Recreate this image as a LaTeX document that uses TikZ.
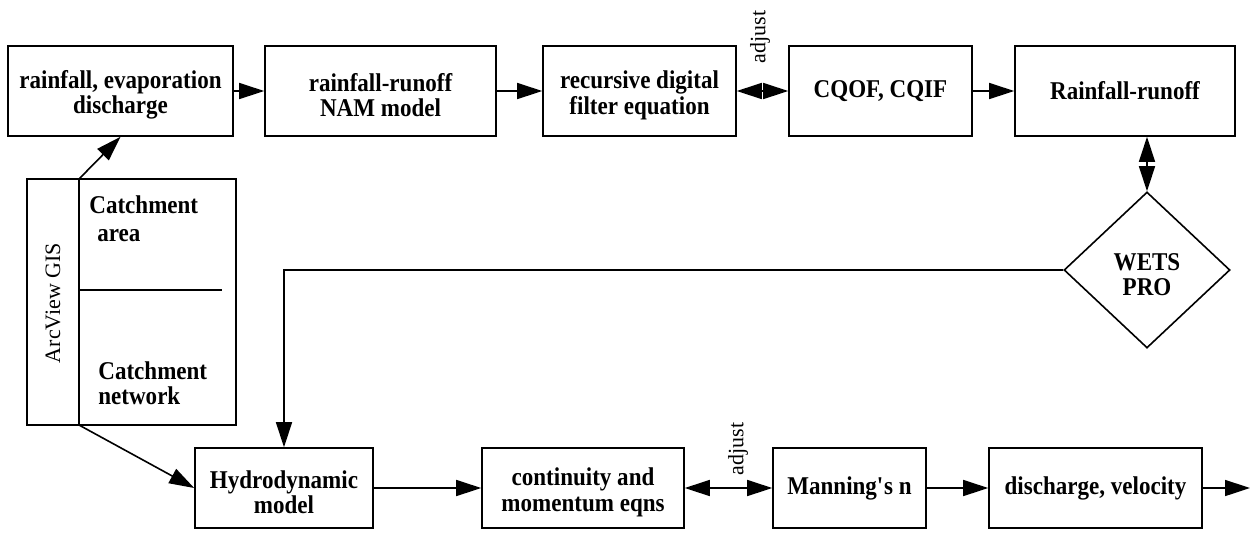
\documentclass[tikz,border=0pt]{standalone}
\usepackage{fontspec}
\setmainfont{Liberation Serif}
\newfontfamily\bxfont[FakeStretch=0.9]{Liberation Serif}
\newcommand\tpstrut{\rule{0pt}{13pt}}
\usetikzlibrary{shapes.geometric,arrows.meta}
\begin{document}
\begin{tikzpicture}[x=0.5pt,y=-0.5pt,
  box/.style={draw, line width=0.8pt, inner sep=0pt, align=center,
    font=\bxfont\bfseries\fontsize{12.8}{12.8}\selectfont},
  topbox/.style={box, minimum height=45pt},
  botbox/.style={box, minimum height=40pt},
  lbl/.style={inner sep=0pt, align=left, font=\bxfont\bfseries\fontsize{12.8}{12.6}\selectfont},
  plain/.style={inner sep=0pt, font=\fontsize{11}{12}\selectfont},
  tip/.tip={Triangle[length=12.5pt,width=8pt]},
  conn/.style={line width=0.8pt, -tip},
  dconn/.style={line width=0.8pt, tip-tip},
  line/.style={line width=0.8pt}]
\useasboundingbox[fill=white] (0,0) rectangle (1260,532);

% top row
\node[topbox, minimum width=112.5pt] (b1) at (120.5,91) {\tpstrut rainfall, evaporation\\discharge};
\node[topbox, minimum width=115.5pt] (b2) at (380.5,91) {\tpstrut rainfall-runoff\\NAM model};
\node[topbox, minimum width=96.5pt]  (b3) at (639.5,91) {\tpstrut recursive digital\\filter equation};
\node[topbox, minimum width=91.5pt]  (b4) at (880.5,91) {CQOF, CQIF};
\node[topbox, minimum width=110pt]   (b5) at (1125,91) {Rainfall-runoff};

% WETS PRO
\node[box, diamond, minimum width=83pt, minimum height=78pt] (wets) at (1147,270) {\tpstrut WETS\\PRO};

% bottom row
\node[botbox, minimum width=89pt]    (hy) at (284,488) {\tpstrut Hydrodynamic\\model};
\node[botbox, minimum width=101pt]   (co) at (583,488) {\tpstrut continuity and\\momentum eqns};
\node[botbox, minimum width=76.5pt]  (ma) at (849.5,488) {Manning\textquotesingle s n};
\node[botbox, minimum width=106.5pt] (dv) at (1095.5,488) {discharge, velocity};
\coordinate (out) at (1250,488);

% ArcView GIS block
\node[draw, line width=0.8pt, minimum width=104.5pt, minimum height=123pt, inner sep=0pt] (gis) at (131.5,302) {};
\coordinate (gtop) at (79,179);
\coordinate (gbot) at (79,425);
\coordinate (dl) at (79,290);
\coordinate (dr) at (222,290);
\draw[line] (gtop) -- (gbot);
\draw[line] (dl) -- (dr);
\node[plain, rotate=90] (arcv) at (53,303) {ArcView GIS};
\node[lbl, anchor=north west] (ca) at (89,195) {Catchment\\[1.5pt]\hspace{4pt}area};
\node[lbl, anchor=north west] (cn) at (98,361) {Catchment\\network};

% adjust labels
\node[plain, rotate=90] (adj1) at (760,37) {adjust};
\node[plain, rotate=90] (adj2) at (738,449) {adjust};

% connectors
\draw[conn] (b1) -- (b2);
\draw[conn] (b2) -- (b3);
\draw[dconn] (b3) -- (b4);
\draw[conn] (b4) -- (b5);
\draw[dconn] (wets.north) -- (wets.north |- b5.south);
\draw[conn] (wets.west) -| (hy.north);
\draw[conn] (gtop) -- (b1.south);
\draw[conn] (gbot) -- (hy.west);
\draw[conn] (hy) -- (co);
\draw[dconn] (co) -- (ma);
\draw[conn] (ma) -- (dv);
\draw[conn] (dv) -- (out);
\end{tikzpicture}
\end{document}
